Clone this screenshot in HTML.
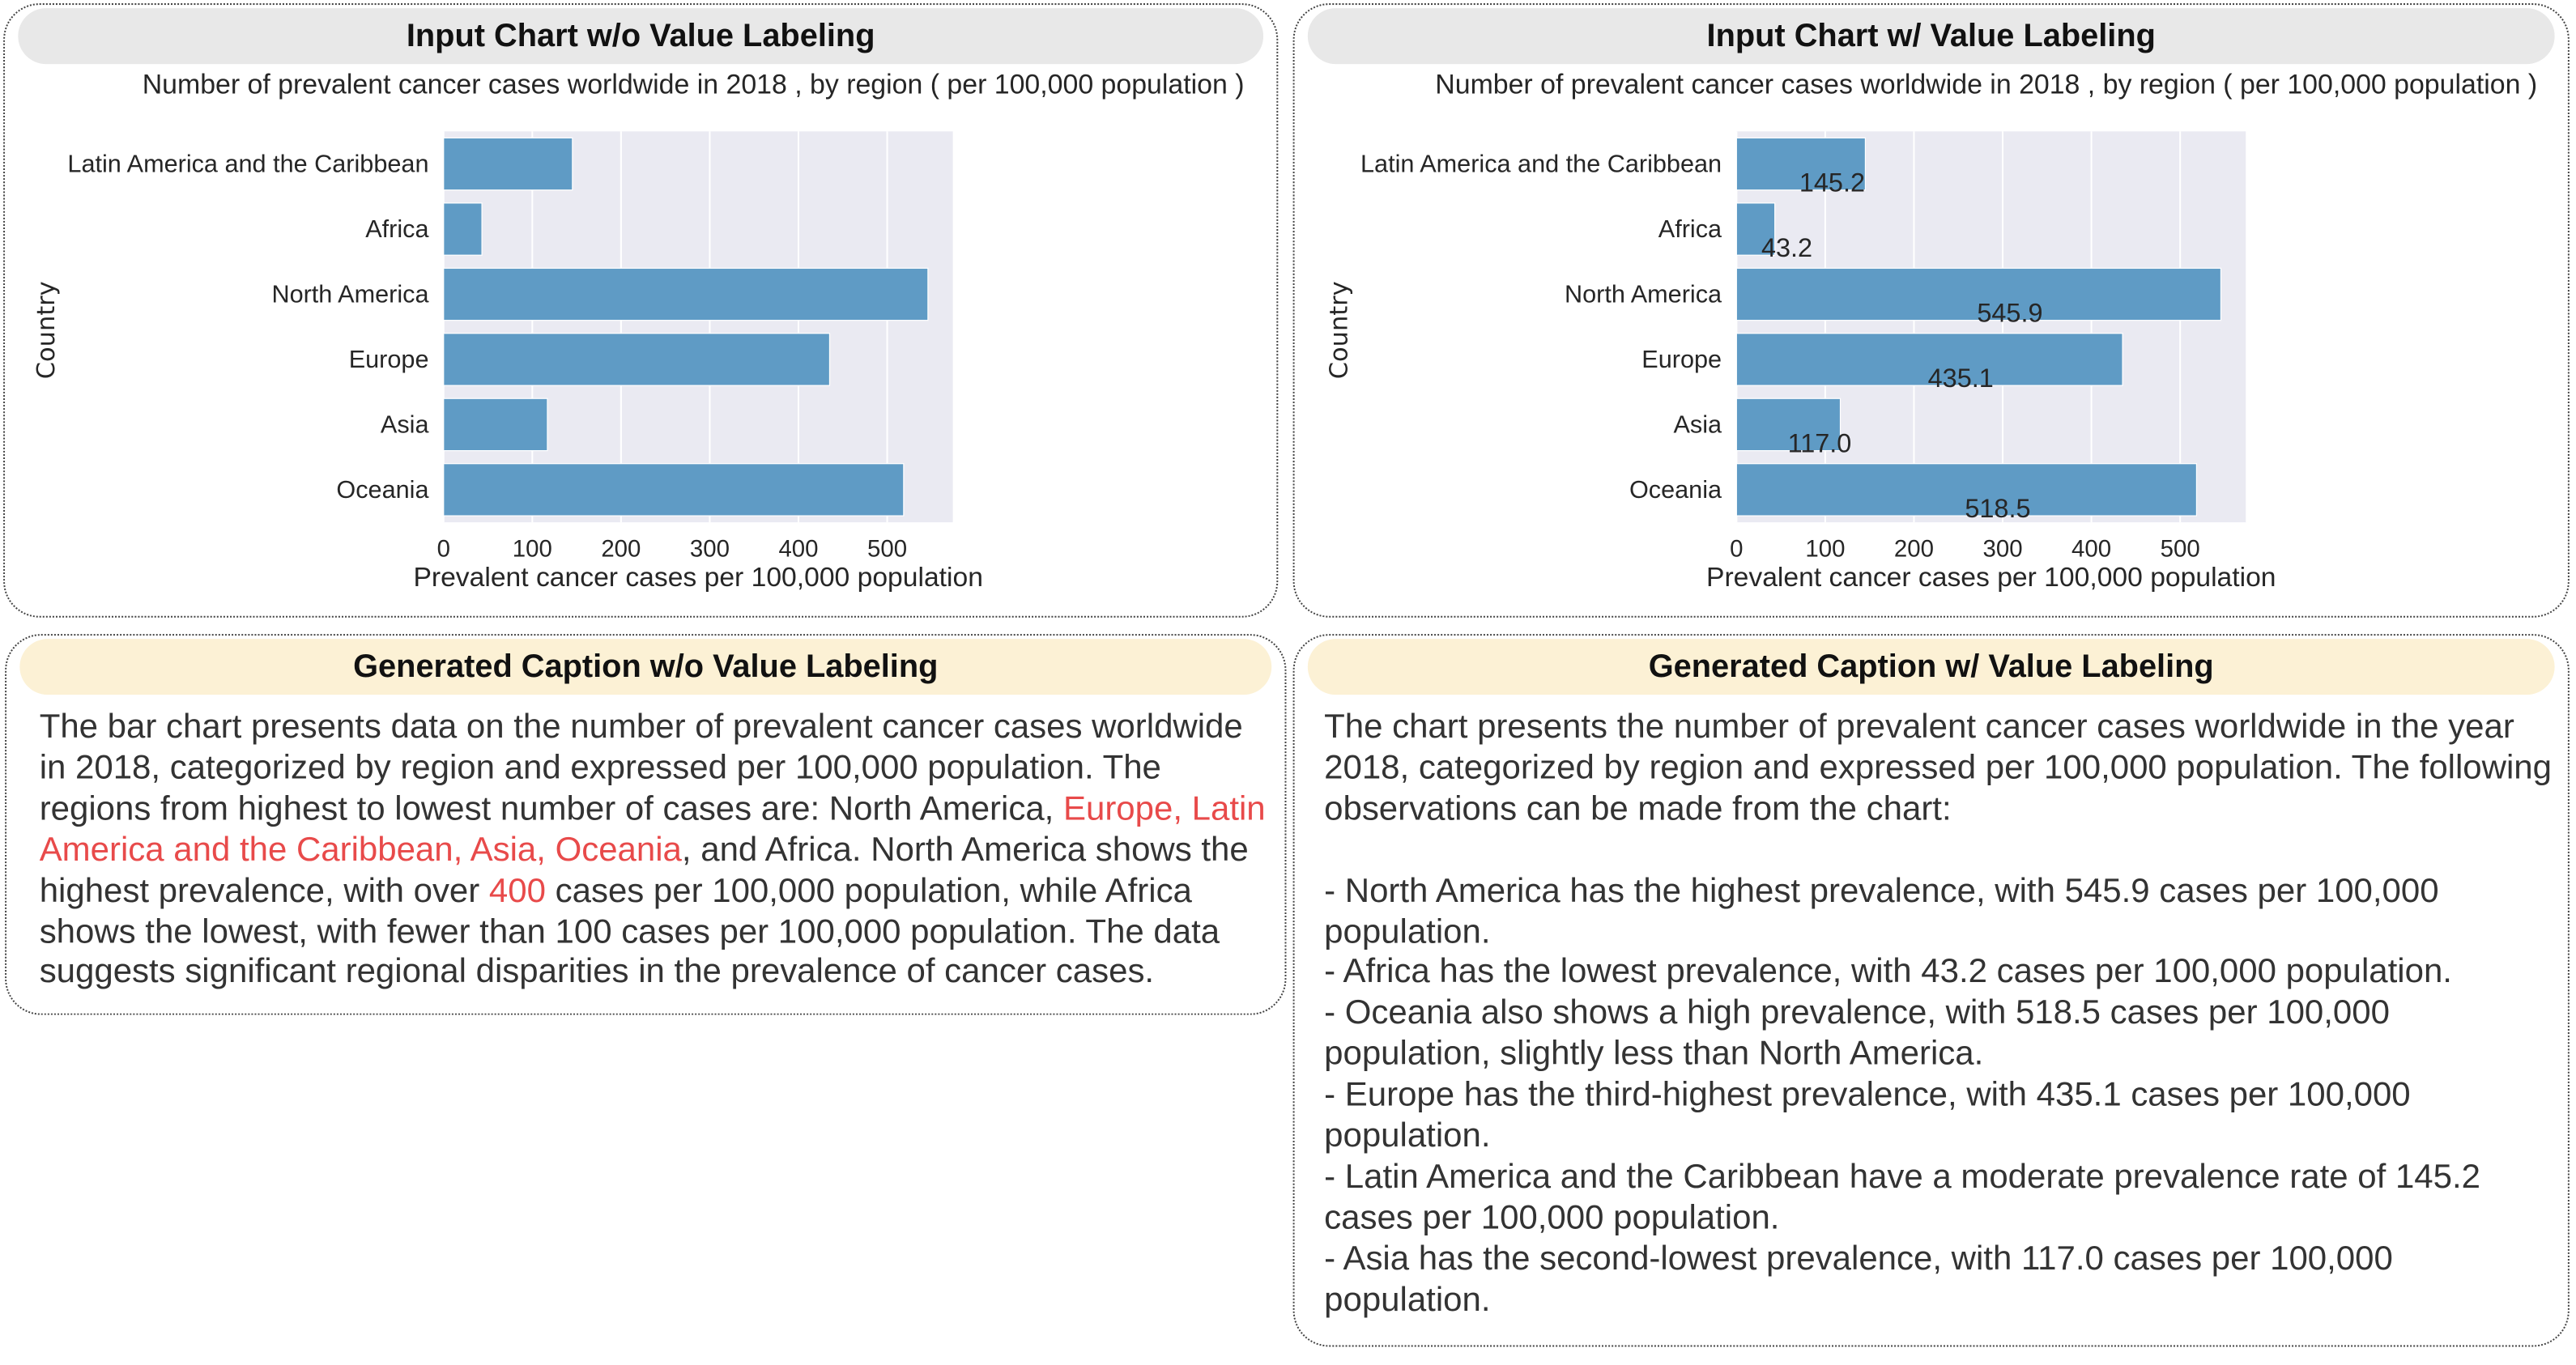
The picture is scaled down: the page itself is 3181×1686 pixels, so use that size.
<!DOCTYPE html>
<html><head><meta charset="utf-8">
<style>
html,body{margin:0;padding:0;background:#fff;}
body{width:3181px;height:1686px;overflow:hidden;position:relative;font-family:"Liberation Sans",Arial,sans-serif;}
#wrap{position:absolute;left:0;top:0;width:1568px;height:831px;transform:scale(2.0287);transform-origin:0 0;}
.panel{position:absolute;border:1.5px dotted #444;border-radius:22px;box-sizing:border-box;}
.hdr{position:absolute;left:8px;right:8px;top:2px;height:34px;border-radius:17px;text-align:center;font-weight:bold;font-size:19.6px;line-height:34px;color:#111;}
.gray{background:#e8e8e8;}
.yel{background:#fcf1d5;}
.cap{position:absolute;left:20px;top:44px;font-size:20.7px;line-height:24.9px;color:#333;white-space:nowrap;}
.red{color:#e84a4a;}
svg{position:absolute;left:0;top:0;}
</style></head><body>
<div id="wrap">
 <div class="panel" style="left:2px;top:2px;width:776px;height:374px;">
  <div class="hdr gray">Input Chart w/o Value Labeling</div>
 </div>
 <div class="panel" style="left:787px;top:2px;width:777px;height:374px;">
  <div class="hdr gray">Input Chart w/ Value Labeling</div>
 </div>
 <svg id="charts" width="1568" height="380"></svg>
 <div class="panel" style="left:3px;top:386px;width:780px;height:232px;">
  <div class="hdr yel">Generated Caption w/o Value Labeling</div>
  <div class="cap">The bar chart presents data on the number of prevalent cancer cases worldwide<br>in 2018, categorized by region and expressed per 100,000 population. The<br>regions from highest to lowest number of cases are: North America, <span class="red">Europe, Latin</span><br><span class="red">America and the Caribbean, Asia, Oceania</span>, and Africa. North America shows the<br>highest prevalence, with over <span class="red">400</span> cases per 100,000 population, while Africa<br>shows the lowest, with fewer than 100 cases per 100,000 population. The data<br>suggests significant regional disparities in the prevalence of cancer cases.</div>
 </div>
 <div class="panel" style="left:787px;top:386px;width:777px;height:434px;">
  <div class="hdr yel">Generated Caption w/ Value Labeling</div>
  <div class="cap" style="left:18px;">The chart presents the number of prevalent cancer cases worldwide in the year<br>2018, categorized by region and expressed per 100,000 population. The following<br>observations can be made from the chart:<br><br>- North America has the highest prevalence, with 545.9 cases per 100,000<br>population.<br>- Africa has the lowest prevalence, with 43.2 cases per 100,000 population.<br>- Oceania also shows a high prevalence, with 518.5 cases per 100,000<br>population, slightly less than North America.<br>- Europe has the third-highest prevalence, with 435.1 cases per 100,000<br>population.<br>- Latin America and the Caribbean have a moderate prevalence rate of 145.2<br>cases per 100,000 population.<br>- Asia has the second-lowest prevalence, with 117.0 cases per 100,000<br>population.</div>
 </div>
</div>
<script>
const categories = ["Latin America and the Caribbean","Africa","North America","Europe","Asia","Oceania"];
const values = [145.2,43.2,545.9,435.1,117.0,518.5];
const valueLabels = ["145.2","43.2","545.9","435.1","117.0","518.5"];
const xTicks = [0,100,200,300,400,500];
const chartTitle = "Number of prevalent cancer cases worldwide in 2018 , by region ( per 100,000 population )";
const xTitle = "Prevalent cancer cases per 100,000 population";
const yTitle = "Country";

const NS = "http://www.w3.org/2000/svg";
const svg = document.getElementById('charts');
function mk(tag, attrs, parent){
  const e = document.createElementNS(NS, tag);
  for (const k in attrs) e.setAttribute(k, attrs[k]);
  (parent||svg).appendChild(e); return e;
}
function drawChart(ox, labeled){
  const g = mk('g', {});
  
  
  const left = ox + 270, right = ox + 580, top = 80, bottom = 318;
  const xMax = 574;
  const xs = v => left + v / xMax * (right - left);
  const band = (bottom - top) / categories.length;
  const ys = i => top + band * i;
  const bg = mk('rect', {x:left, y:top, width:right-left, height:bottom-top, fill:'#eaeaf2'}, g);
  
  
  xTicks.forEach(t => {
    const l = mk('line', {x1:xs(t), x2:xs(t), y1:top, y2:bottom, stroke:'#fff', 'stroke-width':1}, g);
    
    
    const tx = mk('text', {x:xs(t), y:339, 'font-size':14.5, fill:'#262626', 'text-anchor':'middle', 'font-family':'Liberation Sans, sans-serif'}, g);
    tx.textContent = t;
    
    
  });
  categories.forEach((c, i) => {
    const bh = band * 0.8;
    const y0 = ys(i) + band * 0.1;
    const r = mk('rect', {x:xs(0), y:y0, width:xs(values[i]) - xs(0), height:bh, fill:'#5f9bc5', stroke:'#fff', 'stroke-width':0.6}, g);
    
    
    const lt = mk('text', {x:left - 9, y:ys(i) + band/2 + 5, 'font-size':15.1, fill:'#262626', 'text-anchor':'end', 'font-family':'Liberation Sans, sans-serif'}, g);
    lt.textContent = c;
    
    
    if (labeled) {
      const vt = mk('text', {x:(xs(0) + xs(values[i]))/2 + 19, y:y0 + bh + 1, 'font-size':16, fill:'#262626', 'text-anchor':'middle', 'font-family':'Liberation Sans, sans-serif'}, g);
      vt.textContent = valueLabels[i];
      
      
    }
  });
  const tt = mk('text', {x:ox + 422, y:57, 'font-size':16.7, fill:'#262626', 'text-anchor':'middle', 'font-family':'Liberation Sans, sans-serif'}, g);
  tt.textContent = chartTitle;
  
  
  const xt = mk('text', {x:ox + 425, y:357, 'font-size':16.6, fill:'#262626', 'text-anchor':'middle', 'font-family':'Liberation Sans, sans-serif'}, g);
  xt.textContent = xTitle;
  
  
  const yt = mk('text', {x:0, y:0, 'font-size':15, fill:'#262626', 'text-anchor':'middle', 'font-family':'DejaVu Sans, sans-serif', transform:'translate(' + (ox + 33) + ',201) rotate(-90)'}, g);
  yt.textContent = yTitle;
  
  
}
drawChart(0, false);
drawChart(787, true);
</script>
</body></html>
